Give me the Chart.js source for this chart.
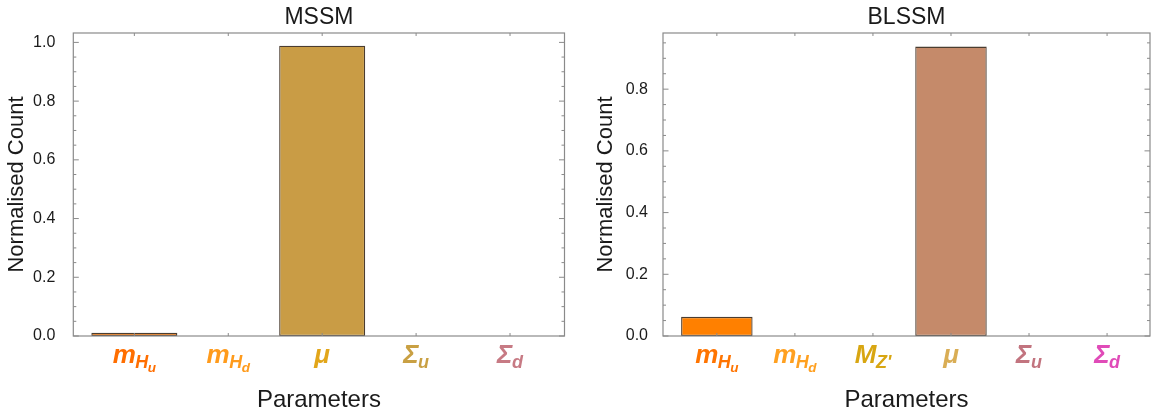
<!DOCTYPE html>
<html>
<head>
<meta charset="utf-8">
<script src="https://cdn.jsdelivr.net/npm/chart.js@4.4.1/dist/chart.umd.min.js"></script>
<style>
  html, body { margin: 0; padding: 0; background: #ffffff; }
  #wrap { position: relative; width: 1151px; height: 418px; overflow: hidden; }
  .panel { position: absolute; top: 0; height: 418px; }
  canvas { display: block; }
</style>
</head>
<body>
<div id="wrap">
  <div class="panel" style="left:0;width:575px"><canvas id="mssm" width="575" height="418"></canvas></div>
  <div class="panel" style="left:575px;width:576px"><canvas id="blssm" width="576" height="418"></canvas></div>
</div>
<script>
// Parameter names as [text, level] pieces: level 0 = symbol, 1 = subscript, 2 = sub-subscript
const mssmParams = [
  [['m', 0], ['H', 1], ['u', 2]],
  [['m', 0], ['H', 1], ['d', 2]],
  [['\u03BC', 0]],
  [['\u03A3', 0], ['u', 1]],
  [['\u03A3', 0], ['d', 1]]
];
const blssmParams = [
  [['m', 0], ['H', 1], ['u', 2]],
  [['m', 0], ['H', 1], ['d', 2]],
  [['M', 0], ['Z\'', 1]],
  [['\u03BC', 0]],
  [['\u03A3', 0], ['u', 1]],
  [['\u03A3', 0], ['d', 1]]
];

// Normalised counts per parameter
const mssmCounts  = [0.011, 0, 0.989, 0, 0];
const blssmCounts = [0.062, 0, 0, 0.938, 0, 0];

// Colours per parameter (label text and bar fill)
const mssmLabelColors  = ['#ff6e00', '#ff9b1c', '#e2a61a', '#c9a043', '#c77a84'];
const mssmBarColors    = ['#e9740f', '#ff9b1c', '#c99c45', '#c9a043', '#c77a84'];
const blssmLabelColors = ['#ff7400', '#ffa020', '#d8a612', '#d9ad55', '#c2747f', '#e04bb8'];
const blssmBarColors   = ['#ff8000', '#ffa020', '#d8a612', '#c58a6a', '#c2747f', '#e04bb8'];

// Panel titles and axis titles
const mssmTitle = 'MSSM';
const blssmTitle = 'BLSSM';
const yTitle = 'Normalised Count';
const xTitle = 'Parameters';

// y tick spacing
const yMajorStep = 0.2;
const yMinorStep = 0.05;

const FONT = '"Liberation Sans", Arial, Helvetica, sans-serif';
const levelSize  = [26, 18, 13.5];
const levelShift = [0, 5, 9];

function drawRichLabel(ctx, parts, cx, baseline, color) {
  const fonts = parts.map(([, lv]) => 'italic bold ' + levelSize[lv] + 'px ' + FONT);
  const widths = parts.map(([t], i) => { ctx.font = fonts[i]; return ctx.measureText(t).width; });
  const gap = -0.5;
  const total = widths.reduce((s, w) => s + w, 0) + gap * (parts.length - 1);
  let xPos = cx - total / 2;
  ctx.fillStyle = color;
  ctx.textAlign = 'left';
  ctx.textBaseline = 'alphabetic';
  parts.forEach(([t, lv], i) => {
    ctx.font = fonts[i];
    ctx.fillText(t, xPos, baseline + levelShift[lv]);
    xPos += widths[i] + gap;
  });
}

// Mathematica-style frame: box on four sides, inward ticks, rich category labels, title
const framePlugin = {
  id: 'frameBox',
  afterDraw(chart, args, opts) {
    const { ctx, chartArea: a, scales: { x, y } } = chart;
    ctx.save();
    ctx.strokeStyle = '#8a8a8a';
    ctx.lineWidth = 1.2;
    ctx.strokeRect(a.left, a.top, a.right - a.left, a.bottom - a.top);

    const seg = (x1, y1, x2, y2) => { ctx.beginPath(); ctx.moveTo(x1, y1); ctx.lineTo(x2, y2); ctx.stroke(); };
    ctx.lineWidth = 1;
    const per = Math.round(yMajorStep / yMinorStep);
    const n = Math.floor(y.max / yMinorStep + 1e-9);
    for (let k = 0; k <= n; k++) {
      const py = y.getPixelForValue(k * yMinorStep);
      const len = (k % per === 0) ? 5.5 : 3;
      seg(a.left, py, a.left + len, py);
      seg(a.right, py, a.right - len, py);
    }
    opts.params.forEach((p, i) => {
      const px = x.getPixelForValue(i);
      seg(px, a.bottom, px, a.bottom - 3);
      seg(px, a.top, px, a.top + 3);
    });

    opts.params.forEach((p, i) => {
      drawRichLabel(ctx, p, x.getPixelForValue(i), a.bottom + 27, opts.colors[i]);
    });

    ctx.font = '23px ' + FONT;
    ctx.fillStyle = '#1a1a1a';
    ctx.textAlign = 'center';
    ctx.textBaseline = 'alphabetic';
    ctx.fillText(opts.title, (a.left + a.right) / 2, 24);
    ctx.restore();
  }
};

function makeChart(id, cfg) {
  const isMajor = v => Math.abs(v / yMajorStep - Math.round(v / yMajorStep)) < 1e-6;
  return new Chart(document.getElementById(id), {
    type: 'bar',
    data: {
      datasets: [{
        data: cfg.counts.map((v, i) => ({ x: i, y: v })),
        backgroundColor: cfg.barColors,
        borderColor: 'rgba(55, 40, 25, 0.9)',
        borderWidth: ctx => (ctx.raw && ctx.raw.y > 0 ? 1.3 : 0),
        borderSkipped: false,
        barPercentage: 0.916,
        categoryPercentage: 1.0
      }]
    },
    options: {
      responsive: false,
      animation: false,
      devicePixelRatio: 1,
      layout: { padding: { top: 33, right: cfg.padRight, bottom: 0, left: 0 } },
      plugins: {
        legend: { display: false },
        tooltip: { enabled: false },
        title: { display: false },
        frameBox: { params: cfg.params, colors: cfg.labelColors, title: cfg.title }
      },
      scales: {
        x: {
          type: 'linear',
          min: cfg.xMin,
          max: cfg.xMax,
          offset: false,
          grid: { display: false },
          border: { display: false },
          ticks: { display: false, stepSize: 1, includeBounds: false },
          title: {
            display: true, text: xTitle, color: '#1a1a1a',
            font: { family: FONT, size: 24 }, padding: { top: 0, bottom: 3 }
          },
          afterFit: s => { s.height = 82; }
        },
        y: {
          type: 'linear',
          min: 0,
          max: cfg.yMax,
          grid: { display: false },
          border: { display: false },
          ticks: {
            stepSize: yMinorStep,
            includeBounds: false,
            autoSkip: false,
            padding: cfg.tickPad,
            color: '#1a1a1a',
            font: { family: FONT, size: 16 },
            callback: v => (isMajor(v) ? v.toFixed(1) : '')
          },
          title: {
            display: true, text: yTitle, color: '#1a1a1a',
            font: { family: FONT, size: 22 }, padding: { top: cfg.titlePad, bottom: 0 }
          },
          afterFit: s => { s.width = cfg.yWidth; }
        }
      }
    },
    plugins: [framePlugin]
  });
}

makeChart('mssm', {
  counts: mssmCounts, params: mssmParams, barColors: mssmBarColors, labelColors: mssmLabelColors,
  title: mssmTitle, xMin: -0.65, xMax: 4.58, yMax: 1.032,
  padRight: 10.5, yWidth: 73.3, tickPad: 10, titlePad: 4
});
makeChart('blssm', {
  counts: blssmCounts, params: blssmParams, barColors: blssmBarColors, labelColors: blssmLabelColors,
  title: blssmTitle, xMin: -0.69, xMax: 5.55, yMax: 0.982,
  padRight: 1, yWidth: 88, tickPad: 7, titlePad: 18
});
</script>
</body>
</html>
